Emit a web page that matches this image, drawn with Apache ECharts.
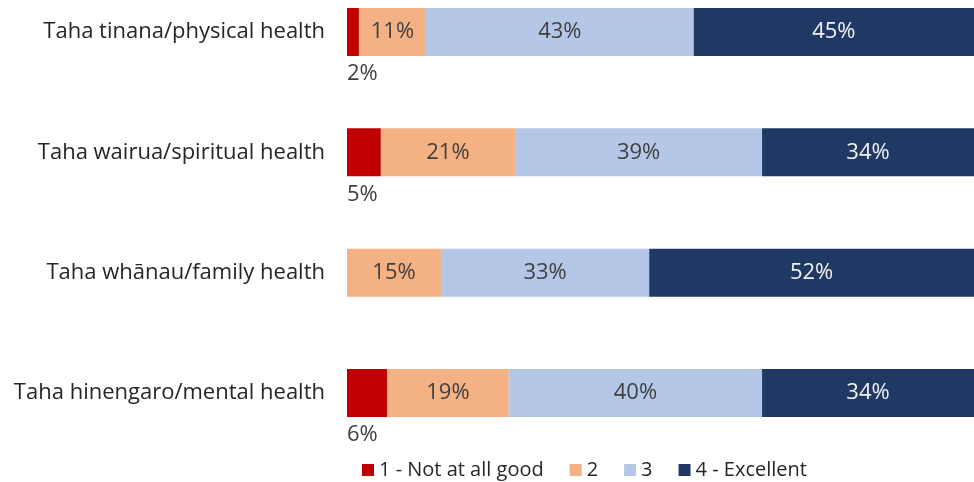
<!DOCTYPE html>
<html lang="en">
<head>
	<meta charset="UTF-8">
	<title>Health ratings</title>
	<script src="https://cdn.jsdelivr.net/npm/echarts@6/dist/echarts.min.js"></script>
	<style>
		html, body { margin: 0; padding: 0; background: #fff; }
		#chart { width: 974px; height: 482px; }
	</style>
</head>
<body>
<div id="chart"></div>
<script>
	// top to bottom
	var categories = ['Taha tinana/physical health', 'Taha wairua/spiritual health', 'Taha whānau/family health', 'Taha hinengaro/mental health'];
	var seriesNames = ['1 - Not at all good', '2', '3', '4 - Excellent'];
	var notGood = [1.9, 5.4, 0, 6.4];
	var two = [10.7, 21.4, 15.0, 19.4];
	var three = [42.7, 39.4, 33.2, 40.4];
	var excellent = [44.7, 33.8, 51.8, 33.8];
	var colors = ['#C00000', '#F4B183', '#B4C7E7', '#203864'];

	var font = '"Open Sans", Lato, sans-serif';

	function pct(p) {
		return Math.round(p.value) + '%';
	}

	function makeSeries(name, data, idx) {
		var label = {
			show: true,
			formatter: pct,
			fontFamily: font,
			fontSize: 22,
			color: idx === 3 ? '#f2f2f2' : '#404040'
		};
		if (idx === 0) {
			// small values sit under the bar
			label.position = [0, '100%'];
			label.offset = [0, 7];
			label.align = 'left';
			label.verticalAlign = 'top';
			label.formatter = function (p) {
				return p.value > 0 ? pct(p) : '';
			};
		} else {
			label.position = 'inside';
		}
		return {
			name: name,
			type: 'bar',
			stack: 'total',
			barWidth: 48,
			itemStyle: { color: colors[idx] },
			label: label,
			data: data
		};
	}

	var chart = echarts.init(document.getElementById('chart'));
	chart.setOption({
		animation: false,
		grid: { left: 347, right: 0, top: 32, bottom: 89 },
		legend: {
			bottom: -3,
			left: 357,
			itemWidth: 12,
			itemHeight: 12,
			itemGap: 26,
			icon: 'rect',
			textStyle: { fontFamily: font, fontSize: 20, color: '#262626' },
			data: seriesNames
		},
		xAxis: {
			type: 'value',
			min: 0,
			max: 100,
			show: false
		},
		yAxis: {
			type: 'category',
			inverse: true,
			boundaryGap: false,
			data: categories,
			axisLine: { show: false },
			axisTick: { show: false },
			splitLine: { show: false },
			axisLabel: {
				margin: 22,
				fontFamily: font,
				fontSize: 22,
				color: '#262626'
			}
		},
		series: [
			makeSeries(seriesNames[0], notGood, 0),
			makeSeries(seriesNames[1], two, 1),
			makeSeries(seriesNames[2], three, 2),
			makeSeries(seriesNames[3], excellent, 3)
		]
	});
</script>
</body>
</html>
